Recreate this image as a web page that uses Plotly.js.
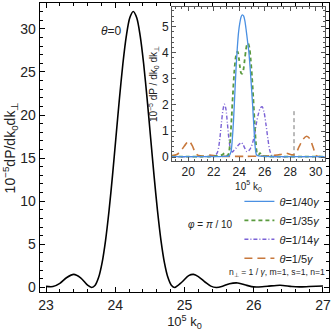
<!DOCTYPE html>
<html>
<head>
<meta charset="utf-8">
<script src="https://cdn.plot.ly/plotly-3.0.1.min.js"></script>
<style>html,body{margin:0;padding:0;background:#fff;}#chart{width:332px;height:331px;}</style>
</head>
<body>
<div id="chart"></div>
<script>
// Main curve, theta = 0
const mainK = [23.0,23.1,23.2,23.3,23.4,23.5,23.6,23.66,23.71,23.76,23.81,23.86,23.91,23.96,24.01,24.06,24.11,24.16,24.21,24.26,24.31,24.36,24.41,24.46,24.51,24.56,24.61,24.66,24.71,24.76,24.81,24.86,24.96,25.06,25.13,25.2,25.3,25.38,25.46,25.55,25.65,25.77,25.9,26.0,26.06,26.2,26.38,26.55,26.66,26.8,27.0];
const mainP = [0.12,0.1,0.47,1.15,1.52,1.12,0.26,0.0,0.26,1.17,2.88,5.47,8.89,12.97,17.42,21.88,25.94,29.18,31.27,32.0,31.27,29.18,25.94,21.88,17.42,12.97,8.89,5.47,2.88,1.17,0.26,0.0,0.6,1.37,1.51,1.26,0.6,0.15,0.0,0.14,0.43,0.52,0.24,0.06,0.05,0.14,0.26,0.1,0.06,0.1,0.16];

// Inset series
const blueK = [18.7,20,21,22,22.8,23.2,23.35,23.45,23.55,23.65,23.75,23.85,23.95,24.05,24.15,24.25,24.35,24.45,24.55,24.65,24.75,24.85,24.95,25.05,25.15,25.25,25.35,25.5,26,27,28,29,30,30.7];
const blueP = [0.02,0.02,0.02,0.02,0.03,0.05,0.2,0.65,1.4,2.4,3.4,4.2,4.8,5.15,5.38,5.45,5.4,5.2,4.85,4.45,4.05,3.45,2.75,2.0,1.15,0.4,0.1,0.05,0.03,0.02,0.02,0.02,0.02,0.02];

const greenK = [18.7,20,21,22,22.6,22.88,23.1,23.2,23.3,23.4,23.5,23.6,23.7,23.8,23.88,23.97,24.06,24.15,24.24,24.33,24.42,24.51,24.6,24.7,24.8,24.9,25.0,25.1,25.2,25.3,25.4,25.5,25.63,25.8,26.2,27,28,29,30,30.7];
const greenP = [0.02,0.02,0.02,0.03,0.08,0.15,0.06,0.2,0.7,1.5,2.4,3.2,3.75,4.0,4.04,3.8,3.45,3.22,3.2,3.35,3.7,4.05,4.3,4.36,4.2,3.75,3.1,2.3,1.4,0.6,0.15,0.08,0.15,0.05,0.03,0.02,0.02,0.02,0.02,0.02];

const purpleK = [18.7,20,21,21.7,22.1,22.3,22.45,22.6,22.72,22.83,22.95,23.07,23.2,23.32,23.45,23.6,23.75,23.9,24.05,24.17,24.3,24.45,24.6,24.75,24.9,25.05,25.2,25.35,25.5,25.65,25.8,25.95,26.1,26.25,26.4,26.6,27,28,29,30,30.7];
const purpleP = [0.01,0.02,0.02,0.03,0.06,0.2,0.6,1.3,1.8,2.03,1.85,1.3,0.65,0.3,0.2,0.27,0.35,0.45,0.52,0.56,0.48,0.33,0.21,0.25,0.35,0.55,0.85,1.3,1.65,1.88,1.93,1.72,1.25,0.7,0.25,0.04,0.02,0.02,0.02,0.02,0.01];

const orangeK = [18.7,19.1,19.5,19.8,20.05,20.3,20.55,20.8,21.2,21.7,22.2,22.8,23.5,24.5,25.5,26.5,27.2,27.7,28.1,28.4,28.7,29.0,29.3,29.55,29.8,30.05,30.3,30.7];
const orangeP = [0.06,0.1,0.3,0.5,0.62,0.45,0.18,0.06,0.04,0.08,0.04,0.03,0.03,0.03,0.04,0.06,0.1,0.15,0.09,0.12,0.4,0.68,0.8,0.7,0.38,0.06,0.02,0.01];

const markerK = [28.3,28.3];
const markerP = [0,1.8];

const legendNames = ['<i>θ</i>=1/40<i>γ</i>','<i>θ</i>=1/35<i>γ</i>','<i>θ</i>=1/14<i>γ</i>','<i>θ</i>=1/5<i>γ</i>'];
const mainTicks = [0,5,10,15,20,25,30];
const xTicks = [23,24,25,26,27];
const insetXTicks = [20,22,24,26,28,30];
const insetYTicks = [0,1,2,3,4,5];

const FONT = 'Liberation Sans, Arial, sans-serif';

const traces = [
  {x: mainK, y: mainP, type:'scatter', mode:'lines', line:{color:'#000', width:1.6, shape:'spline', smoothing:0.8}, showlegend:false, xaxis:'x', yaxis:'y', hoverinfo:'skip'},
  {x: markerK, y: markerP, type:'scatter', mode:'lines', line:{color:'#777', width:1, dash:'4px,3px'}, showlegend:false, xaxis:'x2', yaxis:'y2'},
  {x: orangeK, y: orangeP, name: legendNames[3], type:'scatter', mode:'lines', line:{color:'#c8783c', width:1.6, dash:'8px,5px', shape:'spline', smoothing:0.8}, xaxis:'x2', yaxis:'y2', legendrank:4},
  {x: purpleK, y: purpleP, name: legendNames[2], type:'scatter', mode:'lines', line:{color:'#7b62d6', width:1.4, dash:'4px,2px,1px,2px', shape:'spline', smoothing:0.8}, xaxis:'x2', yaxis:'y2', legendrank:3},
  {x: greenK, y: greenP, name: legendNames[1], type:'scatter', mode:'lines', line:{color:'#5a9a3e', width:1.8, dash:'4px,3px', shape:'spline', smoothing:0.8}, xaxis:'x2', yaxis:'y2', legendrank:2},
  {x: blueK, y: blueP, name: legendNames[0], type:'scatter', mode:'lines', line:{color:'#4a90e2', width:1.3, shape:'spline', smoothing:0.8}, xaxis:'x2', yaxis:'y2', legendrank:1}
];

const axMain = {
  showline:true, linecolor:'#000', linewidth:1.3, mirror:'allticks',
  ticks:'inside', ticklen:5, tickwidth:1, tickcolor:'#000',
  showgrid:false, zeroline:false,
  tickfont:{family:FONT, size:14, color:'#222'}
};
const axInset = {
  showline:true, linecolor:'#555', linewidth:1, mirror:'allticks',
  ticks:'inside', ticklen:4, tickwidth:1, tickcolor:'#555',
  showgrid:false, zeroline:false,
  tickfont:{family:FONT, size:12, color:'#222'}
};

const layout = {
  width:332, height:331,
  margin:{l:40, r:3, t:3, b:39},
  paper_bgcolor:'#fff', plot_bgcolor:'#fff',
  font:{family:FONT, color:'#222'},
  xaxis: Object.assign({}, axMain, {
    range:[22.913, 27.087], tickvals:xTicks, ticktext:xTicks.map(String),
    minor:{dtick:0.2, tick0:23, ticks:'inside', ticklen:3, tickcolor:'#000'},
    title:{text:'10<sup>5</sup> k<sub>0</sub>', font:{family:FONT, size:13, color:'#222'}, standoff:7},
    domain:[0,1], anchor:'y'
  }),
  yaxis: Object.assign({}, axMain, {
    range:[-0.53, 32.99], tickvals:mainTicks, ticktext:mainTicks.map(String),
    minor:{dtick:1, tick0:0, ticks:'inside', ticklen:3, tickcolor:'#000'},
    title:{text:'10<sup>−5</sup>dP/dk<sub>0</sub>dk<sub>⊥</sub>', font:{family:FONT, size:14, color:'#222'}, standoff:6},
    domain:[0,1], anchor:'x'
  }),
  xaxis2: Object.assign({}, axInset, {
    range:[18.72, 30.73], tickvals:insetXTicks, ticktext:insetXTicks.map(String),
    minor:{dtick:0.5, tick0:20, ticks:'inside', ticklen:2, tickcolor:'#555'},
    title:{text:'10<sup>5</sup> k<sub>0</sub>', font:{family:FONT, size:10, color:'#222'}, standoff:2},
    domain:[0.4567, 0.986], anchor:'y2'
  }),
  yaxis2: Object.assign({}, axInset, {
    range:[-0.15, 5.75], tickvals:insetYTicks, ticktext:insetYTicks.map(String),
    minor:{dtick:0.2, tick0:0, ticks:'inside', ticklen:2, tickcolor:'#555'},
    title:{text:'10<sup>−5</sup> dP / dk<sub>0</sub> dk<sub>⊥</sub>', font:{family:FONT, size:10, color:'#222'}, standoff:2},
    domain:[0.453, 0.986], anchor:'x2'
  }),
  showlegend:true,
  legend:{x:0.69, y:0.364, xanchor:'left', yanchor:'top', bgcolor:'rgba(0,0,0,0)', borderwidth:0,
          font:{family:FONT, size:11, color:'#222'}, itemwidth:30, tracegroupgap:0, traceorder:'normal'},
  annotations:[
    {text:'<i>θ</i>=0', x:23.94, y:29.7, xref:'x', yref:'y', showarrow:false, font:{family:FONT, size:12, color:'#222'}},
    {text:'<i>φ</i> = <i>π</i> / 10', x:25.37, y:7.27, xref:'x', yref:'y', showarrow:false, font:{family:FONT, size:10, color:'#222'}},
    {text:'n<sub>⊥</sub> = 1 / <i>γ</i>, m=1, s=1, n=1', x:26.33, y:1.72, xref:'x', yref:'y', showarrow:false, font:{family:FONT, size:8.6, color:'#222'}}
  ]
};

Plotly.newPlot('chart', traces, layout, {displayModeBar:false, staticPlot:true});
</script>
</body>
</html>
